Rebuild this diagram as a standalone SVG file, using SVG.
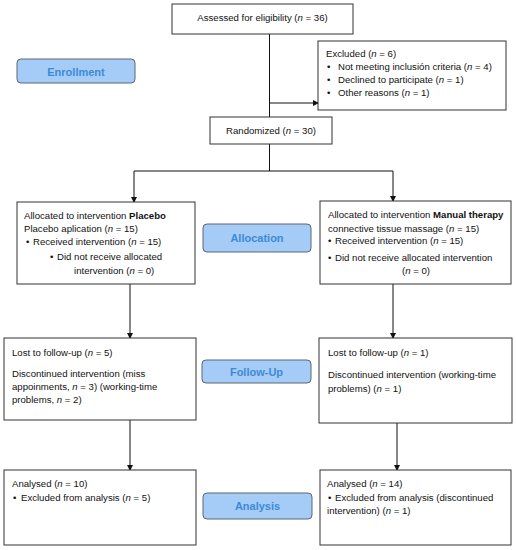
<svg xmlns="http://www.w3.org/2000/svg" width="516" height="550" viewBox="0 0 516 550">
<style>
.box{fill:#fff;stroke:#333;stroke-width:1}
.lab{fill:#a4ccf6;stroke:#5b6678;stroke-width:1}
.t{font-family:"Liberation Sans",Arial,sans-serif;font-size:9.6px;fill:#111}
.lt{font-family:"Liberation Sans",Arial,sans-serif;font-size:11px;font-weight:bold;fill:#3d8ad6;text-anchor:middle}
.ln{stroke:#111;stroke-width:1;fill:none}
</style>
<defs>
<marker id="ah" markerWidth="6" markerHeight="6" refX="5" refY="3" orient="auto" markerUnits="userSpaceOnUse">
<path d="M0,0 L6,3 L0,6 z" fill="#111"/>
</marker>
</defs>
<g id="connectors">
<line class="ln" x1="269.5" y1="34" x2="269.5" y2="117"/>
<line class="ln" x1="269.5" y1="103" x2="318" y2="103" marker-end="url(#ah)"/>
<line class="ln" x1="269.5" y1="144" x2="269.5" y2="171"/>
<line class="ln" x1="134" y1="171" x2="393" y2="171"/>
<line class="ln" x1="134" y1="171" x2="134" y2="202" marker-end="url(#ah)"/>
<line class="ln" x1="393" y1="171" x2="393" y2="201" marker-end="url(#ah)"/>
<line class="ln" x1="130" y1="284" x2="130" y2="338" marker-end="url(#ah)"/>
<line class="ln" x1="393" y1="284" x2="393" y2="338" marker-end="url(#ah)"/>
<line class="ln" x1="130" y1="420" x2="130" y2="470" marker-end="url(#ah)"/>
<line class="ln" x1="397" y1="423" x2="397" y2="470" marker-end="url(#ah)"/>
</g>
<g id="enrollment">
<rect class="lab" x="17" y="59" width="118" height="24" rx="4"/>
<text class="lt" x="76" y="75.5">Enrollment</text>
</g>
<g id="allocation">
<rect class="lab" x="203" y="224" width="108" height="28" rx="4"/>
<text class="lt" x="257" y="242">Allocation</text>
</g>
<g id="followup">
<rect class="lab" x="202" y="360" width="109" height="23" rx="4"/>
<text class="lt" x="256.5" y="375.5">Follow-Up</text>
</g>
<g id="analysis">
<rect class="lab" x="203" y="493" width="109" height="26" rx="4"/>
<text class="lt" x="257.5" y="510">Analysis</text>
</g>
<g id="assessed">
<rect class="box" x="172" y="4" width="181" height="30"/>
<text class="t" x="262.5" y="21" text-anchor="middle">Assessed for eligibility (<tspan font-style="italic">n</tspan> = 36)</text>
</g>
<g id="excluded">
<rect class="box" x="318" y="41" width="188" height="69"/>
<text class="t" x="326" y="57">Excluded (<tspan font-style="italic">n</tspan> = 6)</text>
<text class="t" x="327" y="70">•</text><text class="t" x="338" y="70">Not meeting inclusión criteria (<tspan font-style="italic">n</tspan> = 4)</text>
<text class="t" x="327" y="83">•</text><text class="t" x="338" y="83">Declined to participate (<tspan font-style="italic">n</tspan> = 1)</text>
<text class="t" x="327" y="96">•</text><text class="t" x="338" y="96">Other reasons (<tspan font-style="italic">n</tspan> = 1)</text>
</g>
<g id="randomized">
<rect class="box" x="210" y="117" width="122" height="27"/>
<text class="t" x="271" y="134" text-anchor="middle">Randomized (<tspan font-style="italic">n</tspan> = 30)</text>
</g>
<g id="alloc-left">
<rect class="box" x="17" y="202" width="178" height="82"/>
<text class="t" x="24" y="219">Allocated to intervention <tspan font-weight="bold">Placebo</tspan></text>
<text class="t" x="24" y="232">Placebo aplication (<tspan font-style="italic">n</tspan> = 15)</text>
<text class="t" x="26" y="245">•</text><text class="t" x="33" y="245">Received intervention (<tspan font-style="italic">n</tspan> = 15)</text>
<text class="t" x="50" y="260">•</text><text class="t" x="57" y="260">Did not receive allocated</text>
<text class="t" x="74" y="274">intervention (<tspan font-style="italic">n</tspan> = 0)</text>
</g>
<g id="alloc-right">
<rect class="box" x="320" y="201" width="191" height="83"/>
<text class="t" x="328" y="218">Allocated to intervention <tspan font-weight="bold">Manual therapy</tspan></text>
<text class="t" x="328" y="232">connective tissue massage (<tspan font-style="italic">n</tspan> = 15)</text>
<text class="t" x="328" y="244">•</text><text class="t" x="335" y="244">Received intervention (<tspan font-style="italic">n</tspan> = 15)</text>
<text class="t" x="328" y="261">•</text><text class="t" x="335" y="261">Did not receive allocated intervention</text>
<text class="t" x="416" y="274" text-anchor="middle">(<tspan font-style="italic">n</tspan> = 0)</text>
</g>
<g id="followup-left">
<rect class="box" x="4" y="338" width="192" height="82"/>
<text class="t" x="12" y="356">Lost to follow-up (<tspan font-style="italic">n</tspan> = 5)</text>
<text class="t" x="12" y="377">Discontinued intervention (miss</text>
<text class="t" x="12" y="390">appoinments, <tspan font-style="italic">n</tspan> = 3) (working-time</text>
<text class="t" x="12" y="403">problems, <tspan font-style="italic">n</tspan> = 2)</text>
</g>
<g id="followup-right">
<rect class="box" x="319" y="338" width="193" height="85"/>
<text class="t" x="328" y="356">Lost to follow-up (<tspan font-style="italic">n</tspan> = 1)</text>
<text class="t" x="328" y="378">Discontinued intervention (working-time</text>
<text class="t" x="328" y="392">problems) (<tspan font-style="italic">n</tspan> = 1)</text>
</g>
<g id="analysed-left">
<rect class="box" x="4" y="470" width="192" height="75"/>
<text class="t" x="12" y="487">Analysed (<tspan font-style="italic">n</tspan> = 10)</text>
<text class="t" x="13" y="501">•</text><text class="t" x="21" y="501">Excluded from analysis (<tspan font-style="italic">n</tspan> = 5)</text>
</g>
<g id="analysed-right">
<rect class="box" x="320" y="470" width="191" height="75"/>
<text class="t" x="327" y="487">Analysed (<tspan font-style="italic">n</tspan> = 14)</text>
<text class="t" x="328" y="501">•</text><text class="t" x="335" y="501">Excluded from analysis (discontinued</text>
<text class="t" x="327" y="514">intervention) (<tspan font-style="italic">n</tspan> = 1)</text>
</g>
</svg>
